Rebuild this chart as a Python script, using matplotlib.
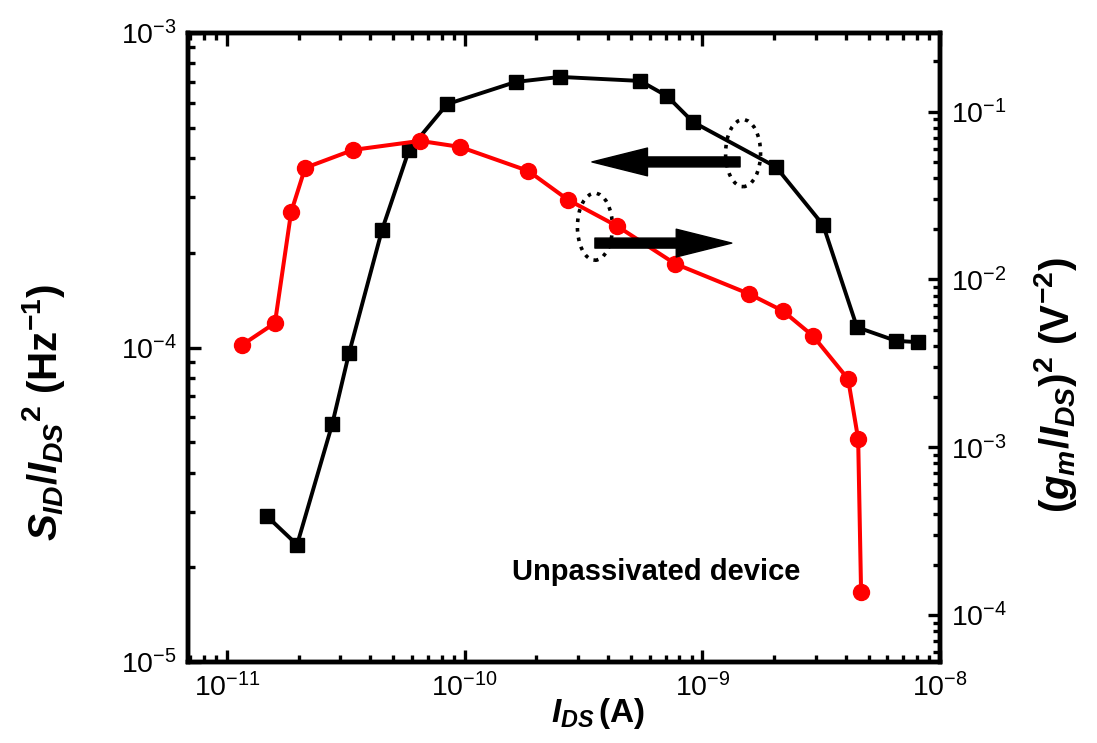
import matplotlib
matplotlib.use("Agg")
import matplotlib.pyplot as plt
from matplotlib.patches import Ellipse

plt.rcParams['font.family'] = ['Liberation Sans', 'DejaVu Sans']
plt.rcParams['mathtext.fontset'] = 'custom'
plt.rcParams['mathtext.it'] = 'Liberation Sans:italic:bold'
plt.rcParams['mathtext.rm'] = 'Liberation Sans:bold'
plt.rcParams['mathtext.bf'] = 'Liberation Sans:bold'

# noise (left axis), black squares
ids_noise = [1.47e-11, 1.97e-11, 2.77e-11, 3.26e-11, 4.49e-11, 5.83e-11, 8.43e-11,
             1.64e-10, 2.52e-10, 5.47e-10, 7.10e-10, 9.13e-10, 2.04e-9, 3.22e-9,
             4.47e-9, 6.52e-9, 8.07e-9]
sid_norm = [2.91e-5, 2.36e-5, 5.71e-5, 9.6e-5, 2.37e-4, 4.25e-4, 5.94e-4,
            6.99e-4, 7.25e-4, 7.04e-4, 6.30e-4, 5.21e-4, 3.75e-4, 2.45e-4,
            1.16e-4, 1.05e-4, 1.04e-4]

# (gm/Ids)^2 (right axis), red circles
ids_gm = [1.157e-11, 1.59e-11, 1.86e-11, 2.13e-11, 3.39e-11, 6.49e-11, 9.55e-11,
          1.85e-10, 2.72e-10, 4.37e-10, 7.67e-10, 1.57e-9, 2.18e-9, 2.92e-9,
          4.10e-9, 4.52e-9, 4.65e-9]
gm_ratio = [4.07e-3, 5.5e-3, 2.52e-2, 4.62e-2, 5.91e-2, 6.69e-2, 6.16e-2,
            4.43e-2, 2.98e-2, 2.08e-2, 1.24e-2, 8.2e-3, 6.49e-3, 4.6e-3,
            2.55e-3, 1.12e-3, 1.37e-4]

x_major = [1e-11, 1e-10, 1e-9, 1e-8]

fig = plt.figure(figsize=(10.97, 7.43), dpi=100)
ax = fig.add_axes([0.1714, 0.109, 0.6856, 0.8466])
ax2 = ax.twinx()

ax.plot(ids_noise, sid_norm, color='black', marker='s', markersize=9.5, linewidth=2.8)
ax2.plot(ids_gm, gm_ratio, color='red', marker='o', markersize=11.5, linewidth=2.9)

ax.set_xscale('log')
ax.set_yscale('log')
ax2.set_yscale('log')
ax.set_xticks(x_major)
ax.set_xlim(6.85e-12, 1e-8)
ax.set_ylim(1e-5, 1e-3)
ax2.set_ylim(5.25e-5, 0.294)

for a in (ax, ax2):
    for s in a.spines.values():
        s.set_linewidth(3.2)
    a.tick_params(which='major', direction='in', length=9, width=2.4, labelsize=20.5, pad=8)
    a.tick_params(which='minor', direction='in', length=5, width=2.4)
ax.tick_params(which='both', top=True, right=False)
ax2.tick_params(which='both', left=False, right=True)

# annotations
ax2.add_patch(Ellipse((0.738, 0.809), 0.0465, 0.1065, transform=ax2.transAxes,
                      fill=False, linestyle=':', linewidth=2.6, edgecolor='black'))
ax2.add_patch(Ellipse((0.541, 0.692), 0.0465, 0.1065, transform=ax2.transAxes,
                      fill=False, linestyle=':', linewidth=2.6, edgecolor='black'))
arrow = dict(arrowstyle='simple,head_length=2.0,head_width=1.0,tail_width=0.36',
             color='black', shrinkA=0, shrinkB=0, mutation_scale=20)
ax2.annotate('', xy=(0.537, 0.795), xytext=(0.734, 0.795),
             xycoords='axes fraction', textcoords='axes fraction', arrowprops=arrow)
ax2.annotate('', xy=(0.723, 0.666), xytext=(0.541, 0.666),
             xycoords='axes fraction', textcoords='axes fraction', arrowprops=arrow)

ax2.text(0.623, 0.143, 'Unpassivated device', transform=ax2.transAxes,
         fontsize=21, fontweight='bold', ha='center', va='center')

fig.text(0.040, 0.445, r'$S_{ID}/I_{DS}{}^{2}$ (Hz$^{-1}$)', rotation=90,
         fontsize=29, fontweight='bold', ha='center', va='center')
fig.text(0.962, 0.482, r'$(g_{m}/I_{DS})^{2}$ (V$^{-2}$)', rotation=90,
         fontsize=29, fontweight='bold', ha='center', va='center')
fig.text(0.545, 0.040, r'$I_{DS}\,$(A)', fontsize=24, fontweight='bold',
         ha='center', va='center')

plt.savefig('out.png', dpi=100)
